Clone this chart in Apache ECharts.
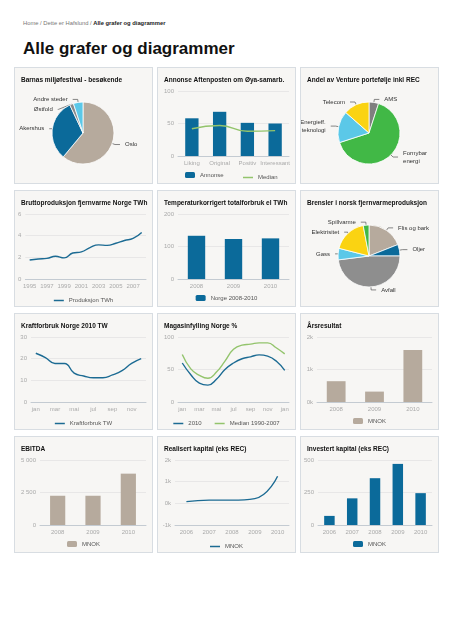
<!DOCTYPE html>
<html>
<head>
<meta charset="utf-8">
<title>Alle grafer og diagrammer</title>
<script src="https://cdn.jsdelivr.net/npm/echarts@6.0.0/dist/echarts.min.js"></script>
<style>
    html, body { margin: 0; padding: 0; background: #fff; }
    body { width: 452px; height: 640px; position: relative; overflow: hidden; font-family: 'Liberation Sans', Arial, sans-serif; }
    .crumb { position: absolute; left: 23px; top: 20px; font-size: 5.8px; color: #777; white-space: nowrap; }
    .crumb b { color: #222; }
    h1 { position: absolute; left: 23px; top: 39px; margin: 0; font-size: 17px; line-height: 20px; font-weight: bold; color: #111; white-space: nowrap; }
    .panel { position: absolute; width: 139px; height: 117px; box-sizing: border-box; border: 1px solid #d8dde2; background: #f7f6f4; }
    .panel .chart { position: absolute; left: 0; top: 0; width: 137px; height: 115px; }
</style>
</head>
<body>
<div class="crumb">Home / Dette er Hafslund / <b>Alle grafer og diagrammer</b></div>
<h1>Alle grafer og diagrammer</h1>
<div id="board"></div>
<script>
'use strict';

// Barnas miljøfestival - besøkende
const festivalNames = ['Oslo', 'Akershus', 'Østfold', 'Andre steder'];
const festivalValues = [61, 32, 2, 5];

// Annonse Aftenposten
const annonseCats = ['Liking', 'Original', 'Positiv', 'Interessant'];
const annonseValues = [58, 68, 51, 50];
const annonseMedian = [42, 47, 38, 39];

// Andel av Venture portefølje
const ventureNames = ['AMS', 'Fornybar\nenergi', 'Energieff.\nteknologi', 'Telecom'];
const ventureValues = [5, 65, 16.5, 13.5];

// Bruttoproduksjon fjernvarme
const bruttoYears = ['1995', '1996', '1997', '1998', '1999', '2000', '2001', '2002', '2003', '2004', '2005', '2006', '2007', '2008'];
const bruttoValues = [1.75, 1.85, 1.9, 2.1, 1.95, 2.4, 2.5, 2.9, 3.15, 3.1, 3.3, 3.55, 3.75, 4.3];

// Temperaturkorrigert totalforbruk
const tempYears = ['2008', '2009', '2010'];
const tempValues = [133, 123, 125];

// Brensler
const brenselNames = ['Flis og bark', 'Oljer', 'Avfall', 'Gass', 'Elektrisitet', 'Spillvarme'];
const brenselValues = [19, 6, 48, 6, 18, 3];

// Kraftforbruk 2010
const months = ['jan', 'feb', 'mar', 'apr', 'mai', 'jun', 'jul', 'aug', 'sep', 'okt', 'nov', 'des'];
const kraftValues = [22.5, 20.5, 17.8, 17.8, 13.3, 12, 11.2, 11.2, 12.5, 14.5, 17.8, 20];

// Magasinfylling
const magasinMonths = months.concat(['jan']);
const magasin2010 = [60, 42, 29, 26, 35, 50, 60, 66.5, 69.5, 72.5, 70.5, 63, 48.5];
const magasinMedian = [73, 51, 41, 36.5, 46, 63, 81, 87.5, 89, 91, 91, 83.5, 74];

// Årsresultat / EBITDA
const resultYears = ['2008', '2009', '2010'];
const resultValues = [640, 320, 1600];
const ebitdaValues = [2250, 2250, 3950];

// Realisert / Investert kapital
const kapitalYears = ['2006', '2007', '2008', '2009', '2010'];
const realisertValues = [80, 150, 150, 220, 1250];
const investertValues = [70, 205, 360, 470, 245];

const font = 'Liberation Sans';
const blue = '#0b6a9a',
    beige = '#b6aa9d',
    lineBlue = '#1c6b93',
    lineGreen = '#93c46c';

const cols = [14, 157, 300],
    rows = [67, 190, 313, 436];

init();

function init() {
    let charts = [
        pie('Barnas miljøfestival - besøkende', festivalNames, festivalValues, [beige, blue, '#8a8a8a', '#5bc8e8']),
        barLine(),
        pie('Andel av Venture portefølje inkl REC', ventureNames, ventureValues, ['#7f7f7f', '#41b846', '#5bc8e8', '#fad312']),
        line('Bruttoproduksjon fjernvarme Norge TWh', 10, bruttoYears, 1, {min: 0, max: 6, interval: 2},
            [lineSeries('Produksjon TWh', bruttoValues, lineBlue)]),
        bar('Temperaturkorrigert totalforbruk el TWh', 20, tempYears, {min: 0, max: 200, interval: 100},
            'Norge 2008-2010', tempValues, blue, '47%'),
        pie('Brensler i norsk fjernvarmeproduksjon', brenselNames, brenselValues, [beige, blue, '#8e8e8e', '#5bc8e8', '#fad312', '#41b846']),
        line('Kraftforbruk Norge 2010 TW', 16, months, 1, {min: 0, max: 30, interval: 10},
            [lineSeries('Kraftforbruk TW', kraftValues, lineBlue)]),
        line('Magasinfylling Norge %', 20, magasinMonths, 1, {min: 0, max: 100, interval: 50},
            [lineSeries('2010', magasin2010, lineBlue), lineSeries('Median 1990-2007', magasinMedian, lineGreen)]),
        bar('Årsresultat', 16, resultYears, {min: 0, max: 2000, interval: 1000, formatter: kFormat},
            'MNOK', resultValues, beige, '49%'),
        bar('EBITDA', 25, resultYears, {min: 0, max: 5000, interval: 2500, formatter: spaceFormat},
            'MNOK', ebitdaValues, beige, '43%'),
        line('Realisert kapital (eks REC)', 17, kapitalYears, 0, {min: -1000, max: 2000, interval: 1000, formatter: kFormat},
            [lineSeries('MNOK', realisertValues, lineBlue)]),
        bar('Investert kapital (eks REC)', 17, kapitalYears, {min: 0, max: 500, interval: 250},
            'MNOK', investertValues, blue, '46%')
    ];

    let board = document.getElementById('board');
    for (let i = 0; i < charts.length; i++) {
        let panel = document.createElement('div'),
            box = document.createElement('div');
        panel.className = 'panel';
        panel.style.left = cols[i % 3] + 'px';
        panel.style.top = rows[Math.floor(i / 3)] + 'px';
        box.className = 'chart';
        panel.appendChild(box);
        board.appendChild(panel);
        let myChart = echarts.init(box, null, {renderer: 'canvas'});
        charts[i].animation = false;
        myChart.setOption(charts[i]);
    }
}

function kFormat(v) {
    return (v / 1000) + 'k';
}

function spaceFormat(v) {
    return String(v).replace(/\B(?=(\d{3})+(?!\d))/g, ' ');
}

function title(text) {
    return {
        text: text,
        left: 6,
        top: 9,
        padding: 0,
        textStyle: {fontSize: 6.5, fontWeight: 'bold', color: '#111', fontFamily: font}
    };
}

// bar items get a box, line items a thin stroke
function legend(isLine, extra) {
    let lg = {
        left: 'center',
        top: 104,
        padding: 0,
        itemWidth: 10,
        itemHeight: isLine ? 1.5 : 6,
        itemGap: 13,
        textStyle: {fontSize: 6, color: '#555', fontFamily: font}
    };
    if (isLine) {
        lg.icon = 'rect';
        lg.top = 106.5;
    }
    return Object.assign(lg, extra || {});
}

function grid(left) {
    return {left: left, right: 6, top: 23, height: 65};
}

function xAxis(cats, labelInterval) {
    return {
        type: 'category',
        data: cats,
        axisLine: {onZero: false, lineStyle: {color: '#c4cbd2'}},
        axisTick: {length: 3, lineStyle: {color: '#c4cbd2'}},
        axisLabel: {fontSize: 6, color: '#aaa', margin: 4, interval: labelInterval, fontFamily: font}
    };
}

function yAxis(scale) {
    return {
        type: 'value',
        min: scale.min,
        max: scale.max,
        interval: scale.interval,
        axisLine: {show: false},
        axisTick: {show: false},
        axisLabel: {fontSize: 6, color: '#aaa', margin: 4, fontFamily: font, formatter: scale.formatter},
        splitLine: {lineStyle: {color: '#e3e3e3', width: 0.8}}
    };
}

function lineSeries(name, values, color) {
    return {
        name: name,
        type: 'line',
        data: values,
        smooth: true,
        symbol: 'none',
        lineStyle: {color: color, width: 1.4},
        itemStyle: {color: color}
    };
}

function pie(text, names, values, colors) {
    let data = [];
    for (let i = 0; i < names.length; i++) {
        data[i] = {name: names[i], value: values[i], itemStyle: {color: colors[i]}};
    }
    return {
        title: title(text),
        series: [
            {
                type: 'pie',
                radius: 31,
                center: [68, 65],
                startAngle: 90,
                data: data,
                emphasis: {disabled: true},
                itemStyle: {borderColor: '#fff', borderWidth: 0.8},
                label: {fontSize: 6, color: '#333', fontFamily: font, lineHeight: 8, overflow: 'none'},
                labelLine: {length: 3, length2: 5, lineStyle: {color: '#555', width: 0.7}}
            }
        ]
    };
}

function bar(text, left, cats, scale, name, values, color, width) {
    return {
        title: title(text),
        legend: legend(false),
        grid: grid(left),
        xAxis: xAxis(cats, 0),
        yAxis: yAxis(scale),
        series: [
            {name: name, type: 'bar', data: values, barWidth: width, itemStyle: {color: color}}
        ]
    };
}

function line(text, left, cats, labelInterval, scale, series) {
    return {
        title: title(text),
        legend: legend(true),
        grid: grid(left),
        xAxis: xAxis(cats, labelInterval),
        yAxis: yAxis(scale),
        series: series
    };
}

function barLine() {
    return {
        title: title('Annonse Aftenposten om Øya-samarb.'),
        legend: [
            legend(false, {left: 27, data: ['Annonse']}),
            legend(true, {left: 85, data: ['Median']})
        ],
        grid: grid(20),
        xAxis: xAxis(annonseCats, 0),
        yAxis: yAxis({min: 0, max: 100, interval: 50}),
        series: [
            {name: 'Annonse', type: 'bar', data: annonseValues, barWidth: '48%', itemStyle: {color: blue}},
            lineSeries('Median', annonseMedian, lineGreen)
        ]
    };
}
</script>
</body>
</html>
